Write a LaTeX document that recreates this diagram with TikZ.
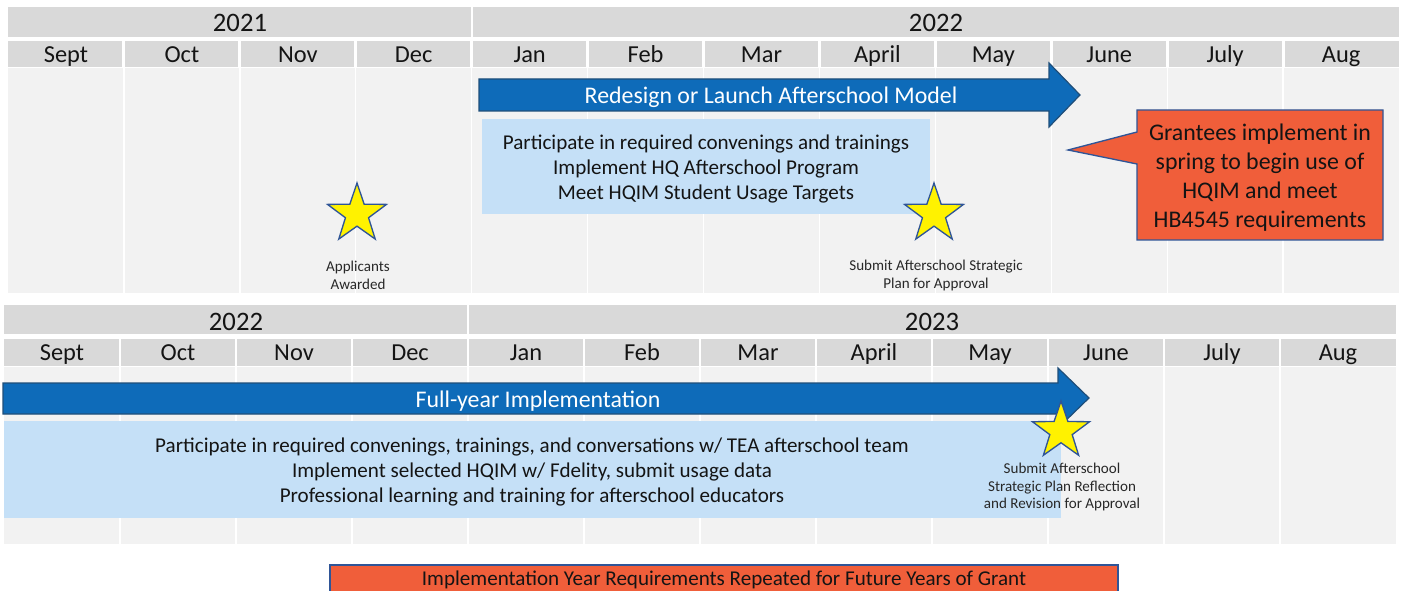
\documentclass[tikz,border=0pt]{standalone}
\usepackage{fontspec}
\setmainfont{Carlito}
\usetikzlibrary{shapes.geometric}
\definecolor{hdr}{RGB}{217,217,217}
\definecolor{bodyc}{RGB}{242,242,242}
\definecolor{arrowblue}{RGB}{14,107,185}
\definecolor{arrowedge}{RGB}{31,78,121}
\definecolor{lightblue}{RGB}{197,224,247}
\definecolor{orangec}{RGB}{240,94,58}
\definecolor{edgeblue}{RGB}{47,85,151}
\definecolor{txt}{RGB}{20,20,20}
\definecolor{smalltxt}{RGB}{40,40,40}
\newcommand{\pxf}[2]{\fontsize{#1}{#2}\selectfont}
\tikzset{
  yeartxt/.style={text=txt, font=\pxf{20pt}{22pt}, inner sep=0pt},
  monthtxt/.style={text=txt, font=\pxf{18.3pt}{20pt}, inner sep=0pt},
  bigarrow/.style={fill=arrowblue, draw=arrowedge, line width=0.9pt},
  arrowtxt/.style={text=white, font=\pxf{17.9pt}{20pt}, inner sep=0pt},
  lbox/.style={fill=lightblue},
  boxtxt/.style={text=txt, align=center, font=\pxf{15.8pt}{19pt}, inner sep=0pt},
  callout/.style={fill=orangec, draw=edgeblue, line width=1pt},
  callouttxt/.style={text=txt, align=center, font=\pxf{17.9pt}{21.8pt}, inner sep=0pt},
  starnode/.style={star, star points=5, star point ratio=2.55, fill=yellow, draw=edgeblue, line width=1pt, inner sep=0pt, minimum size=#1},
  startxt/.style={text=smalltxt, align=center, font=\pxf{11.3pt}{13.3pt}, inner sep=0pt},
  sep/.style={white, line width=#1}
}
\begin{document}
\begin{tikzpicture}[x=0.75pt,y=-0.75pt]
\useasboundingbox (0,0) rectangle (1401,591);
\fill[white] (0,0) rectangle (1401,591);

% ---------- top table ----------
\fill[bodyc] (8,68) rectangle (1399,293);
\fill[hdr] (8,7) rectangle (1399,37);
\fill[hdr] (8,41) rectangle (1399,67);
\draw[sep=2.2pt] (472,7) -- (472,37);
\foreach \i in {1,...,11}{
  \draw[sep=2.2pt] ({8+\i*115.92},41) -- ({8+\i*115.92},67);
  \draw[sep=1pt] ({8+\i*115.92},68) -- ({8+\i*115.92},293);
}
\node[yeartxt] (y2021a) at (240,22.5) {2021};
\node[yeartxt] (y2022a) at (936,22.5) {2022};
\foreach \name [count=\i from 0] in {Sept,Oct,Nov,Dec,Jan,Feb,Mar,April,May,June,July,Aug}{
  \node[monthtxt, anchor=base] (ma\i) at ({8+(\i+0.5)*115.92},62.5) {\name};
}

% ---------- bottom table ----------
\fill[bodyc] (4,367) rectangle (1396,544);
\fill[hdr] (4,305) rectangle (1396,334);
\fill[hdr] (4,339) rectangle (1396,366);
\draw[sep=2.2pt] (468,305) -- (468,334);
\foreach \i in {1,...,11}{
  \draw[sep=2.2pt] ({4+\i*116},339) -- ({4+\i*116},366);
  \draw[sep=1pt] ({4+\i*116},367) -- ({4+\i*116},544);
}
\node[yeartxt] (y2022b) at (236,321.5) {2022};
\node[yeartxt] (y2023b) at (932,321.5) {2023};
\foreach \name [count=\i from 0] in {Sept,Oct,Nov,Dec,Jan,Feb,Mar,April,May,June,July,Aug}{
  \node[monthtxt, anchor=base] (mb\i) at ({4+(\i+0.5)*116},360.5) {\name};
}

% ---------- top content ----------
\draw[bigarrow] (479,79) -- (1049,79) -- (1049,63) -- (1080,95) -- (1049,127) -- (1049,111) -- (479,111) -- cycle;
\node[arrowtxt] (redesign) at (771,97) {Redesign or Launch Afterschool Model};

\fill[lbox] (482,119) rectangle (930,214);
\node[boxtxt] (box1) at (706,169) {Participate in required convenings and trainings\\Implement HQ Afterschool Program\\Meet HQIM Student Usage Targets};

\draw[callout] (1137,110) -- (1383,110) -- (1383,240) -- (1137,240) -- (1137,164) -- (1068,150) -- (1137,132) -- cycle;
\node[callouttxt] (grantees) at (1260,178) {Grantees implement in\\spring to begin use of\\HQIM and meet\\HB4545 requirements};

\node[starnode=46.5pt] (star1) at (357,214) {};
\node[startxt] (lab1) at (358,275.5) {Applicants\\Awarded};
\node[starnode=46.5pt] (star2) at (934,214) {};
\node[startxt] (lab2) at (936,275.5) {Submit Afterschool Strategic\\Plan for Approval};

% ---------- bottom content ----------
\draw[bigarrow] (3,383) -- (1058,383) -- (1058,368) -- (1089,398) -- (1058,428) -- (1058,414) -- (3,414) -- cycle;
\node[arrowtxt] (fullyear) at (538,401) {Full-year Implementation};

\fill[lbox] (4,421) rectangle (1061,518);
\node[boxtxt] (box2) at (532,472) {Participate in required convenings, trainings, and conversations w/ TEA afterschool team\\Implement selected HQIM w/ Fdelity, submit usage data\\Professional learning and training for afterschool educators};

\node[starnode=45pt] (star3) at (1061,431) {};
\node[startxt] (lab3) at (1062,487) {Submit Afterschool\\Strategic Plan Reflection\\and Revision for Approval};

\draw[callout] (330,565) rectangle (1118,600);
\node[text=txt, font=\pxf{15.8pt}{17pt}, inner sep=0pt] (future) at (724,579.5) {Implementation Year Requirements Repeated for Future Years of Grant};
\end{tikzpicture}
\end{document}
